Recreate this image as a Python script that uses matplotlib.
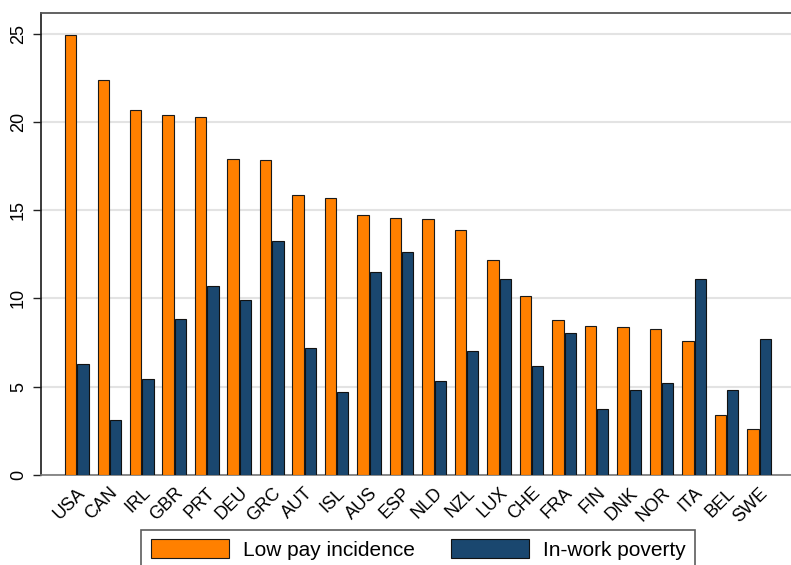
import matplotlib
matplotlib.use("Agg")
import matplotlib.pyplot as plt
import numpy as np

countries = ["USA", "CAN", "IRL", "GBR", "PRT", "DEU", "GRC", "AUT", "ISL", "AUS", "ESP",
             "NLD", "NZL", "LUX", "CHE", "FRA", "FIN", "DNK", "NOR", "ITA", "BEL", "SWE"]
low_pay = [24.9, 22.4, 20.65, 20.4, 20.3, 17.9, 17.85, 15.87, 15.7, 14.74, 14.58,
           14.48, 13.85, 12.15, 10.15, 8.79, 8.45, 8.39, 8.28, 7.6, 3.38, 2.61]
in_work_poverty = [6.27, 3.08, 5.4, 8.8, 10.68, 9.88, 13.22, 7.2, 4.67, 11.47, 12.6,
                   5.29, 7.0, 11.08, 6.18, 8.01, 3.71, 4.78, 5.18, 11.08, 4.78, 7.67]
series_names = ["Low pay incidence", "In-work poverty"]
yticks = [0, 5, 10, 15, 20, 25]

ORANGE = "#FF8000"
NAVY = "#1A476F"

plt.rcParams['font.family'] = ['Liberation Sans', 'DejaVu Sans']

fig = plt.figure(figsize=(7.91, 5.65), dpi=100)
W, H = 791, 565
left_px, right_px, top_px, bot_px = 41, 810, 13, 474.7
ax = fig.add_axes([left_px / W, 1 - bot_px / H, (right_px - left_px) / W, (bot_px - top_px) / H])

x = np.arange(len(countries))
w = 0.345
off = 0.19
b1 = ax.bar(x - off, low_pay, w, color=ORANGE, edgecolor="#1a1a1a", linewidth=0.8,
            label=series_names[0], zorder=3)
b2 = ax.bar(x + off, in_work_poverty, w, color=NAVY, edgecolor="#111111", linewidth=0.8,
            label=series_names[1], zorder=3)

# x scale: group center 0 at px 76.8, spacing 32.49 px
c0, sp = 76.8, 32.49
ax.set_xlim((left_px - c0) / sp, (right_px - c0) / sp)
ax.set_ylim(0, (bot_px - top_px) / 17.64)

ax.set_yticks(yticks)
ax.set_yticklabels([str(t) for t in yticks], rotation=90, va="center", fontsize=13)
ax.tick_params(axis="y", length=6, width=1.0, pad=4, color="#222222")
ax.yaxis.grid(True, color="#e3e3e3", linewidth=1.5, zorder=0)
ax.set_axisbelow(True)

ax.set_xticks(x)
ax.set_xticklabels(countries, rotation=45, ha="right", va="top", rotation_mode="anchor",
                   fontsize=13)
ax.tick_params(axis="x", length=0, pad=7)

ax.spines["left"].set_color("#1a1a1a")
ax.spines["left"].set_linewidth(1.2)
ax.spines["top"].set_color("#555555")
ax.spines["top"].set_linewidth(1.3)
ax.spines["bottom"].set_color("#777777")
ax.spines["bottom"].set_linewidth(1.2)
ax.spines["right"].set_visible(False)

leg = fig.legend(handles=[b1, b2], labels=series_names, loc="upper center",
                 bbox_to_anchor=(418 / W, 1 - 530 / H), ncol=2, fontsize=15,
                 handlelength=3.75, handleheight=1.0, handletextpad=0.67,
                 columnspacing=1.73, borderpad=0.45, fancybox=False, frameon=True,
                 borderaxespad=0)
leg.get_frame().set_edgecolor("#333333")
leg.get_frame().set_linewidth(1.2)

fig.savefig("out.png", dpi=100)
